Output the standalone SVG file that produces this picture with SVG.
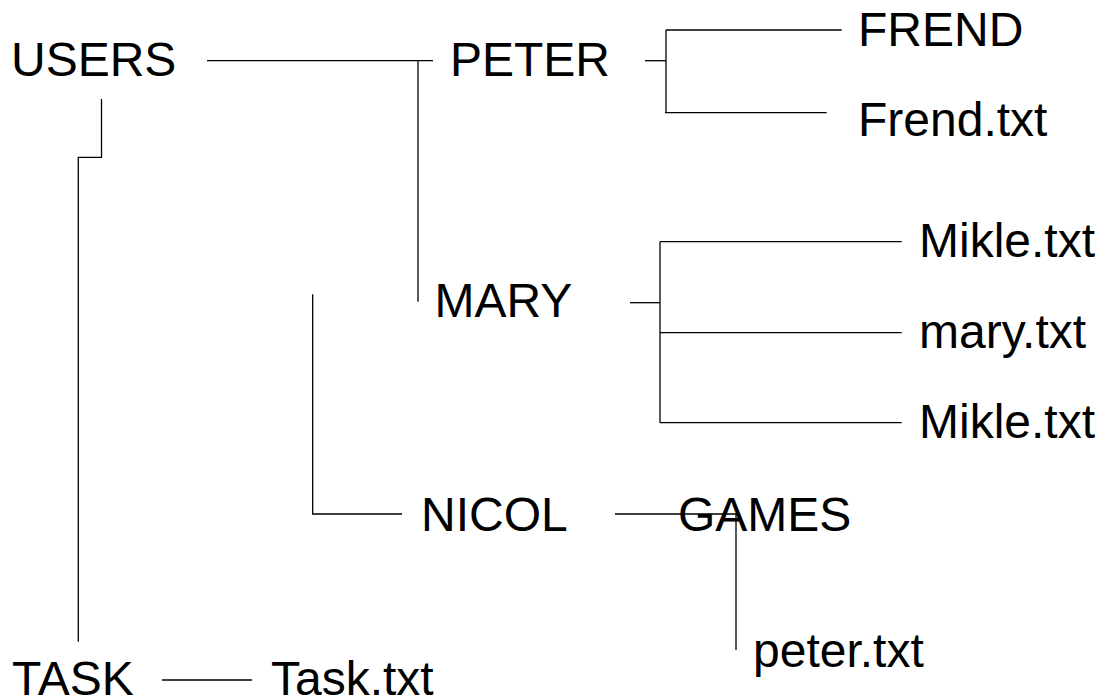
<svg xmlns="http://www.w3.org/2000/svg" width="1101" height="699" viewBox="0 0 1101 699">
<style>
.lbl{font-family:"Liberation Sans",Arial,sans-serif;font-size:48px;fill:#000}
.c path{fill:none;stroke:#000;stroke-width:1.3}
</style>
<rect width="1101" height="699" fill="#fff"/>
<g class="c" id="connectors">
<path d="M207,60.7 H433"/>
<path d="M418,60.7 V301.7"/>
<path d="M101.5,99 V157.3 H78.3 V641.7"/>
<path d="M312.7,294.3 V514 H402"/>
<path d="M645,60.7 H666"/>
<path d="M666,30 V112.7"/>
<path d="M666,30 H841.7"/>
<path d="M665,112.7 H826.7"/>
<path d="M630,302.7 H660"/>
<path d="M660,241.7 V422.7"/>
<path d="M660,241.7 H901.7"/>
<path d="M660,332.7 H901.7"/>
<path d="M660,422.7 H901.7"/>
<path d="M615,514 H738"/>
<path d="M736,514 V650"/>
<path d="M162,680 H252"/>
</g>
<g id="users"><text class="lbl" x="11" y="76">USERS</text></g>
<g id="peter"><text class="lbl" x="450" y="76">PETER</text></g>
<g id="frend"><text class="lbl" x="858" y="46">FREND</text></g>
<g id="frend-txt"><text class="lbl" x="858" y="136">Frend.txt</text></g>
<g id="mary"><text class="lbl" x="434.5" y="317">MARY</text></g>
<g id="mikle1"><text class="lbl" x="919" y="257">Mikle.txt</text></g>
<g id="mary-txt"><text class="lbl" x="919" y="348">mary.txt</text></g>
<g id="mikle2"><text class="lbl" x="919" y="438">Mikle.txt</text></g>
<g id="nicol"><text class="lbl" x="421" y="531">NICOL</text></g>
<g id="games"><text class="lbl" x="678" y="531">GAMES</text></g>
<g id="peter-txt"><text class="lbl" x="753" y="667">peter.txt</text></g>
<g id="task"><text class="lbl" x="12" y="695">TASK</text></g>
<g id="task-txt"><text class="lbl" x="271" y="695">Task.txt</text></g>
</svg>
